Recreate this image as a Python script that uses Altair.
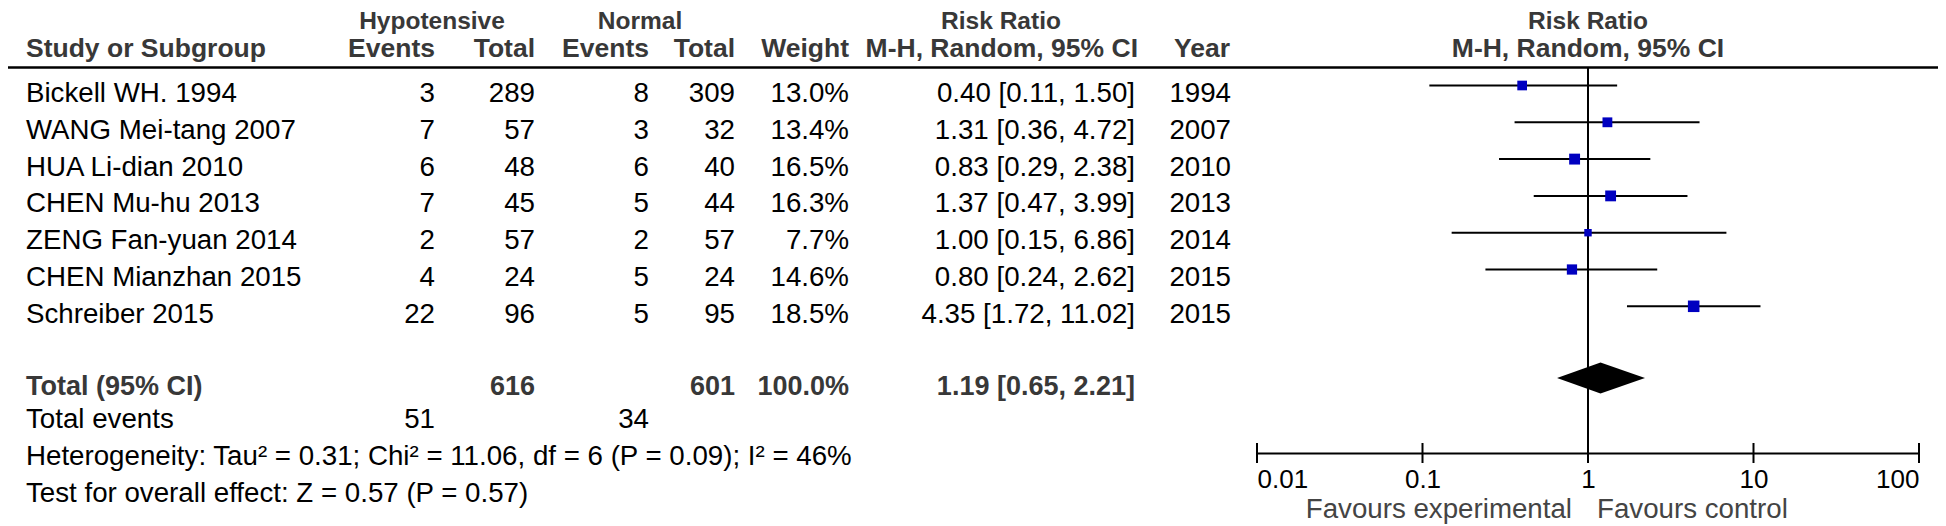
import altair as alt
import pandas as pd

# ---------------- data ----------------
studies = ["Bickell WH. 1994", "WANG Mei-tang 2007", "HUA Li-dian 2010", "CHEN Mu-hu 2013",
           "ZENG Fan-yuan 2014", "CHEN Mianzhan 2015", "Schreiber 2015"]
hypo_events = [3, 7, 6, 7, 2, 4, 22]
hypo_total = [289, 57, 48, 45, 57, 24, 96]
norm_events = [8, 3, 6, 5, 2, 5, 5]
norm_total = [309, 32, 40, 44, 57, 24, 95]
weights = [13.0, 13.4, 16.5, 16.3, 7.7, 14.6, 18.5]
rr = [0.40, 1.31, 0.83, 1.37, 1.00, 0.80, 4.35]
ci_low = [0.11, 0.36, 0.29, 0.47, 0.15, 0.24, 1.72]
ci_high = [1.50, 4.72, 2.38, 3.99, 6.86, 2.62, 11.02]
years = [1994, 2007, 2010, 2013, 2014, 2015, 2015]

total_hypo = 616
total_norm = 601
total_weight = 100.0
pooled = [0.65, 1.19, 2.21]  # low, estimate, high
events_hypo = 51
events_norm = 34
heterogeneity = "Heterogeneity: Tau\u00b2 = 0.31; Chi\u00b2 = 11.06, df = 6 (P = 0.09); I\u00b2 = 46%"
overall = "Test for overall effect: Z = 0.57 (P = 0.57)"
axis_ticks = [0.01, 0.1, 1, 10, 100]

# ---------------- layout / style ----------------
FONT = "Liberation Sans"
FS = 27.7        # regular text
FSB = 27         # bold text
FSH1 = 24.5      # top header row
FSH2 = 26.5      # second header row
HEAD = "#383838"
OX = 8           # page margin
OY = 8


def px(x):
    return x - OX


def py(y):
    return y - OY


ROW_TOTAL = 7.95
ROW_EVENTS = 8.87
ROW_HET = 9.87
ROW_TEST = 10.87
STEP = 36.8
DIAMOND_HALF = 15.5 / STEP
DY = 16.5
AXIS_Y = 453
PLOT_H = py(AXIS_Y)
H1_Y = 29
H2_Y = 57

y_scale = alt.Scale(domain=[0, 6], range=[py(85.5), py(85.5) + 6 * STEP], nice=False, zero=False)
x_scale = alt.Scale(type="log", domain=[0.01, 100], range=[px(1257), px(1919)], nice=False)
x_axis = alt.Axis(values=axis_ticks, format="~g", labelFlush=True, ticks=False, tickSize=0,
                  grid=False, domainColor="black", domainWidth=2, labelColor="black",
                  labelFont=FONT, labelFontSize=26, labelPadding=34, labelBaseline="alphabetic",
                  title=None)

df = pd.DataFrame({
    "study": studies, "he": hypo_events, "ht": hypo_total, "ne": norm_events, "nt": norm_total,
    "w": weights, "rr": rr, "lo": ci_low, "hi": ci_high, "year": years,
})
df["row"] = range(len(df))
df["w_txt"] = [f"{w:.1f}%" for w in weights]
df["rr_txt"] = [f"{a:.2f} [{b:.2f}, {c:.2f}]" for a, b, c in zip(rr, ci_low, ci_high)]
df["year_txt"] = [str(y) for y in years]
df["he_txt"] = [str(v) for v in hypo_events]
df["ht_txt"] = [str(v) for v in hypo_total]
df["ne_txt"] = [str(v) for v in norm_events]
df["nt_txt"] = [str(v) for v in norm_total]


def row_text(data, field, x, align, bold=False, color="black"):
    return alt.Chart(data).mark_text(
        align=align, baseline="alphabetic", dy=DY, font=FONT, fontSize=FSB if bold else FS,
        fontWeight="bold" if bold else "normal", color=color,
    ).encode(
        x=alt.value(px(x)),
        y=alt.Y("row:Q", scale=y_scale, axis=None),
        text=alt.Text(f"{field}:N"),
    )


def fixed_text(txt, x, y, align, bold=True, color=HEAD, size=FSH2):
    return alt.Chart(pd.DataFrame({"t": [txt]})).mark_text(
        align=align, baseline="alphabetic", font=FONT, fontSize=size,
        fontWeight="bold" if bold else "normal", color=color,
    ).encode(x=alt.value(px(x)), y=alt.value(py(y)), text="t:N")


layers = []

# headers (page coordinates)
layers += [
    fixed_text("Hypotensive", 432, H1_Y, "center", size=FSH1),
    fixed_text("Normal", 640, H1_Y, "center", size=FSH1),
    fixed_text("Risk Ratio", 1001, H1_Y, "center", size=FSH1),
    fixed_text("Risk Ratio", 1588, H1_Y, "center", size=FSH1),
    fixed_text("Study or Subgroup", 26, H2_Y, "left"),
    fixed_text("Events", 435, H2_Y, "right"),
    fixed_text("Total", 535, H2_Y, "right"),
    fixed_text("Events", 649, H2_Y, "right"),
    fixed_text("Total", 735, H2_Y, "right"),
    fixed_text("Weight", 849, H2_Y, "right"),
    fixed_text("M-H, Random, 95% CI", 1138, H2_Y, "right"),
    fixed_text("Year", 1230, H2_Y, "right"),
    fixed_text("M-H, Random, 95% CI", 1588, H2_Y, "center"),
]

# header rule
layers.append(
    alt.Chart(pd.DataFrame({"a": [0]})).mark_rule(color="black", strokeWidth=2.5).encode(
        x=alt.value(px(8)), x2=alt.value(px(1938)), y=alt.value(py(67.5))
    )
)

# study rows
layers += [
    row_text(df, "study", 26, "left"),
    row_text(df, "he_txt", 435, "right"),
    row_text(df, "ht_txt", 535, "right"),
    row_text(df, "ne_txt", 649, "right"),
    row_text(df, "nt_txt", 735, "right"),
    row_text(df, "w_txt", 849, "right"),
    row_text(df, "rr_txt", 1135, "right"),
    row_text(df, "year_txt", 1231, "right"),
]

# total row
tot = pd.DataFrame({
    "row": [ROW_TOTAL], "label": ["Total (95% CI)"], "ht": [str(total_hypo)], "nt": [str(total_norm)],
    "w": [f"{total_weight:.1f}%"], "rr": [f"{pooled[1]:.2f} [{pooled[0]:.2f}, {pooled[2]:.2f}]"],
})
layers += [
    row_text(tot, "label", 26, "left", True, HEAD),
    row_text(tot, "ht", 535, "right", True, HEAD),
    row_text(tot, "nt", 735, "right", True, HEAD),
    row_text(tot, "w", 849, "right", True, HEAD),
    row_text(tot, "rr", 1135, "right", True, HEAD),
]

ev = pd.DataFrame({"row": [ROW_EVENTS], "label": ["Total events"], "he": [str(events_hypo)],
                   "ne": [str(events_norm)]})
layers += [
    row_text(ev, "label", 26, "left"),
    row_text(ev, "he", 435, "right"),
    row_text(ev, "ne", 649, "right"),
]
notes = pd.DataFrame({"row": [ROW_HET, ROW_TEST], "label": [heterogeneity, overall]})
layers.append(row_text(notes, "label", 26, "left"))

# forest: reference line at RR = 1
ref = pd.DataFrame({"v": [1.0]})
layers.append(
    alt.Chart(ref).mark_rule(color="black", strokeWidth=2).encode(
        x=alt.X("v:Q", scale=x_scale, axis=x_axis), y=alt.value(py(67.5)), y2=alt.value(PLOT_H)
    )
)

# axis ticks (crossing the axis line)
tk = pd.DataFrame({"v": axis_ticks})
layers.append(
    alt.Chart(tk).mark_rule(color="black", strokeWidth=2).encode(
        x=alt.X("v:Q", scale=x_scale, axis=x_axis), y=alt.value(PLOT_H - 10), y2=alt.value(PLOT_H + 10)
    )
)

# confidence intervals
layers.append(
    alt.Chart(df).mark_rule(color="black", strokeWidth=2).encode(
        x=alt.X("lo:Q", scale=x_scale, axis=x_axis), x2="hi:Q",
        y=alt.Y("row:Q", scale=y_scale, axis=None),
    )
)
# weight squares
layers.append(
    alt.Chart(df).mark_square(color="#0000c0", opacity=1, filled=True).encode(
        x=alt.X("rr:Q", scale=x_scale, axis=x_axis),
        y=alt.Y("row:Q", scale=y_scale, axis=None),
        size=alt.Size("w:Q", scale=alt.Scale(domain=[0, 20], range=[0, 144]), legend=None),
    )
)

# pooled diamond
dia = pd.DataFrame({
    "x": pooled,
    "top": [ROW_TOTAL, ROW_TOTAL - DIAMOND_HALF, ROW_TOTAL],
    "bot": [ROW_TOTAL, ROW_TOTAL + DIAMOND_HALF, ROW_TOTAL],
})
layers.append(
    alt.Chart(dia).mark_area(color="black", orient="vertical", opacity=1).encode(
        x=alt.X("x:Q", scale=x_scale, axis=x_axis),
        y=alt.Y("top:Q", scale=y_scale, axis=None),
        y2="bot:Q",
    )
)

# favours labels
layers += [
    fixed_text("Favours experimental", 1572, 518, "right", bold=False, color="#444444", size=FS),
    fixed_text("Favours control", 1597, 518, "left", bold=False, color="#444444", size=FS),
]

chart = alt.layer(*layers).properties(
    width=1930, height=PLOT_H,
    padding={"left": 0, "top": 0, "right": 0, "bottom": 526 - 8 - PLOT_H},
    autosize=alt.AutoSizeParams(type="none"),
).configure_view(strokeWidth=0)

chart.save("out.html", embed_options={"renderer": "svg", "actions": False})
